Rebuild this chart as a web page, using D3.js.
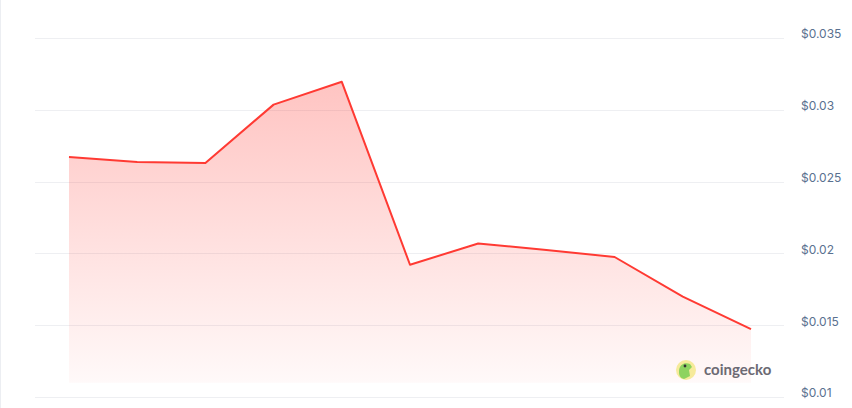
<!DOCTYPE html>
<html><head><meta charset="utf-8">
<script src="https://cdn.jsdelivr.net/npm/d3@7"></script>
<style>html,body{margin:0;padding:0;background:#fff;}svg{display:block;}</style>
</head><body>
<svg id="c" width="852" height="408"></svg>
<script>
const points = [0,1,2,3,4,5,6,7,8,9,10];
const prices = [0.02672, 0.02637, 0.02630, 0.03036, 0.03195, 0.01921, 0.02069, 0.02024, 0.01975, 0.01699, 0.01473];
const tickValues = [0.01, 0.015, 0.02, 0.025, 0.03, 0.035];
const tickLabels = ["$0.01", "$0.015", "$0.02", "$0.025", "$0.03", "$0.035"];
const areaBase = 0.011;

const svg = d3.select("#c");
const x = d3.scaleLinear().domain([0, 10]).range([69, 751]);
const y = d3.scaleLinear().domain([0.01, 0.035]).range([397, 38]);

// left border
svg.append("line").attr("x1",0.5).attr("x2",0.5).attr("y1",0).attr("y2",408)
  .attr("stroke","#eceef2").attr("stroke-width",1);

// grid + labels
const yAxis = d3.axisRight(y).tickValues(tickValues).tickSize(0)
  .tickFormat((d,i)=>tickLabels[i]);
const g = svg.append("g");
tickValues.forEach((t,i)=>{
  g.append("line").attr("x1",35).attr("x2",784)
    .attr("y1",Math.round(y(t))+0.5).attr("y2",Math.round(y(t))+0.5)
    .attr("stroke","#eeeff2").attr("stroke-width",1);
});
const ax = svg.append("g").attr("transform","translate(801,-4)").call(yAxis);
ax.select(".domain").remove();
ax.selectAll("text").attr("x",0).attr("dx",0)
  .style("font-family","Inter, 'Noto Sans', sans-serif").style("font-size","12px")
  .attr("fill","#5a7190");

// gradient
const defs = svg.append("defs");
const grad = defs.append("linearGradient").attr("id","gr").attr("x1",0).attr("x2",0).attr("y1",0).attr("y2",1);
grad.append("stop").attr("offset","0%").attr("stop-color","#ff3a33").attr("stop-opacity",0.3);
grad.append("stop").attr("offset","100%").attr("stop-color","#ff3a33").attr("stop-opacity",0.03);

const area = d3.area().x((d,i)=>x(points[i])).y0(y(areaBase)).y1(d=>y(d));
svg.append("path").datum(prices).attr("d",area).attr("fill","url(#gr)");

const line = d3.line().x((d,i)=>x(points[i])).y(d=>y(d));
svg.append("path").datum(prices).attr("d",line).attr("fill","none")
  .attr("stroke","#ff3a33").attr("stroke-width",2).attr("stroke-linejoin","round");

// watermark
const wm = svg.append("g").attr("transform","translate(686,370)");
wm.append("circle").attr("r",10).attr("fill","#f6ea9a");
wm.append("path").attr("d","M-7,2 C-7,-6 -1,-8 4,-6 L6,-3 L3,0 L4,6 L-2,9 C-6,8 -7,5 -7,2Z").attr("fill","#8dd35f");
wm.append("circle").attr("cx",-1).attr("cy",-4).attr("r",1.4).attr("fill","#333");
svg.append("text").attr("x",704).attr("y",375).text("coingecko")
  .style("font-family","Lato, 'Open Sans', sans-serif").style("font-weight","700")
  .style("font-size","15px").attr("fill","#6c6a73");
</script>
</body></html>
